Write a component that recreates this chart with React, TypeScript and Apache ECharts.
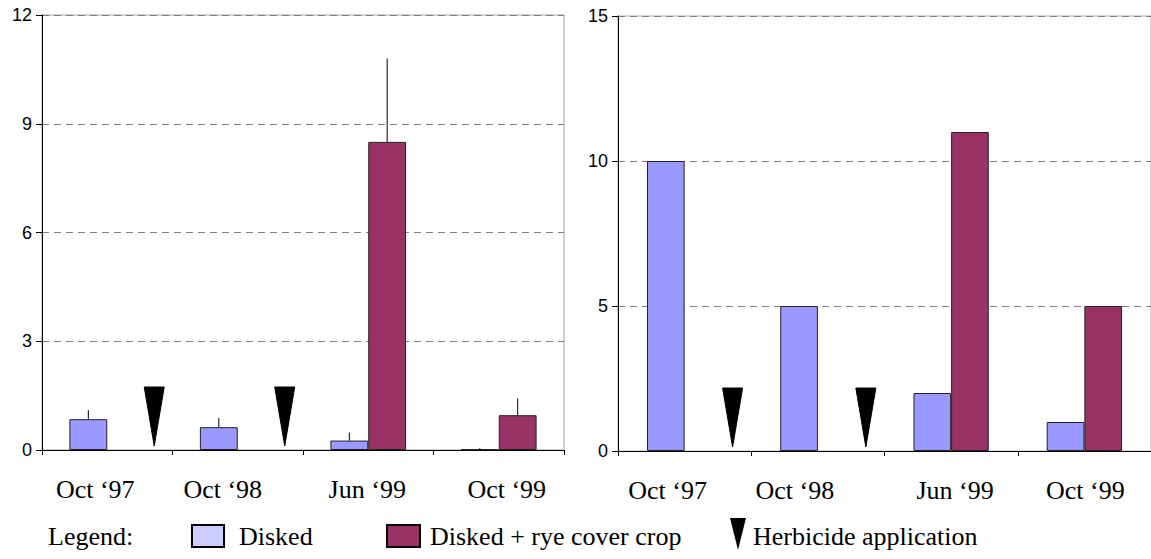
import React, { useEffect, useRef } from "react";
import * as echarts from "echarts";

const categories = ["Oct \u201897", "Oct \u201898", "Jun \u201899", "Oct \u201899"];
const leftDisked = [0.85, 0.63, 0.26, 0.02];
const leftRye = [null, null, 8.5, 0.96];
const leftDiskedErr = [1.1, 0.88, 0.48, 0.05];
const leftRyeErr = [null, null, 10.8, 1.42];
const rightDisked = [10, 5, 2, 1];
const rightRye = [null, null, 11, 5];
const herbicideAfter = [0, 1];
const leftTicks = [0, 3, 6, 9, 12];
const rightTicks = [0, 5, 10, 15];

// horizontal nudges of the category labels (px), as placed in the original figure
const leftLabelShift = [-12, -15, -1, 8];
const rightLabelShift = [-17, -23, 4, 1];

const DISKED = "#9999FF";
const RYE = "#993366";
const SERIF = "'Liberation Serif', 'Times New Roman', serif";
const SANS = "'Liberation Sans', Arial, sans-serif";
const GAP_L = 0.42;
const GAP_R = 0.435;

function errData() {
  const out: number[][] = [];
  categories.forEach((_, i) => {
    if (leftDiskedErr[i] != null) out.push([i, leftDiskedErr[i] as number, leftDisked[i] as number, -1]);
    if (leftRyeErr[i] != null) out.push([i, leftRyeErr[i] as number, leftRye[i] as number, 1]);
  });
  return out;
}

function makeErrRender(gap: number) {
  return (_p: any, api: any) => {
    const i = api.value(0);
    const top = api.coord([i, api.value(1)]);
    const base = api.coord([i, api.value(2)]);
    const bw = api.size([1, 0])[0];
    const barW = (bw * (1 - gap)) / 2;
    const x = top[0] + (api.value(3) * barW) / 2;
    return {
      type: "line",
      shape: { x1: x, y1: base[1], x2: x, y2: top[1] },
      style: { stroke: "#000", lineWidth: 1 },
    };
  };
}

function triRender(_p: any, api: any) {
  const i = api.value(0);
  const p = api.coord([i, 0]);
  const bw = api.size([1, 0])[0];
  const x = p[0] + bw * 0.36;
  const y0 = p[1];
  return {
    type: "polygon",
    shape: { points: [[x - 10, y0 - 63], [x + 10, y0 - 63], [x, y0 - 4]] },
    style: { fill: "#000", stroke: "#000", lineWidth: 1 },
  };
}

function yAxis(gridIndex: number, ticks: number[]) {
  return {
    type: "value",
    gridIndex,
    min: ticks[0],
    max: ticks[ticks.length - 1],
    interval: ticks[1] - ticks[0],
    axisLine: { show: true, lineStyle: { color: "#000", width: 1 } },
    axisTick: { show: true, length: 6, lineStyle: { color: "#000" } },
    axisLabel: { color: "#000", fontSize: 18, fontFamily: SANS, margin: 10 },
    splitLine: { show: true, lineStyle: { color: "#808080", type: [7, 5], width: 1 } },
  };
}

function xAxis(gridIndex: number, shifts: number[]) {
  return {
    type: "category",
    gridIndex,
    data: categories.map((c, i) => {
      const s = shifts[i];
      return {
        value: c,
        textStyle: { padding: [0, s < 0 ? -2 * s : 0, 0, s > 0 ? 2 * s : 0] },
      };
    }),
    axisLine: { show: true, lineStyle: { color: "#000", width: 1.2 } },
    axisTick: { show: true, length: 5, lineStyle: { color: "#000" } },
    axisLabel: { color: "#000", fontSize: 26, fontFamily: SERIF, margin: 26 },
  };
}

export default function App() {
  const ref = useRef<HTMLDivElement>(null);
  useEffect(() => {
    if (!ref.current) return;
    const chart = echarts.init(ref.current, null, { renderer: "svg" });
    const barStyle = (c: string) => ({ color: c, borderColor: "#222", borderWidth: 1 });
    chart.setOption({
      animation: false,
      backgroundColor: "#fff",
      grid: [
        { left: 42, top: 15, width: 522, height: 435, show: true, borderColor: "#a0a0a0", borderWidth: 1, backgroundColor: "transparent" },
        { left: 618, top: 16, width: 537, height: 435, show: true, borderColor: "#b0b0b0", borderWidth: 1, backgroundColor: "transparent" },
      ],
      xAxis: [xAxis(0, leftLabelShift), xAxis(1, rightLabelShift)],
      yAxis: [yAxis(0, leftTicks), yAxis(1, rightTicks)],
      series: [
        { type: "bar", name: "Disked", xAxisIndex: 0, yAxisIndex: 0, data: leftDisked, barGap: "0%", barCategoryGap: GAP_L * 100 + "%", itemStyle: barStyle(DISKED) },
        { type: "bar", name: "Disked + rye cover crop", xAxisIndex: 0, yAxisIndex: 0, data: leftRye, barGap: "0%", barCategoryGap: GAP_L * 100 + "%", itemStyle: barStyle(RYE) },
        { type: "bar", name: "Disked", xAxisIndex: 1, yAxisIndex: 1, data: rightDisked, barGap: "0%", barCategoryGap: GAP_R * 100 + "%", itemStyle: barStyle(DISKED) },
        { type: "bar", name: "Disked + rye cover crop", xAxisIndex: 1, yAxisIndex: 1, data: rightRye, barGap: "0%", barCategoryGap: GAP_R * 100 + "%", itemStyle: barStyle(RYE) },
        { type: "custom", xAxisIndex: 0, yAxisIndex: 0, data: errData(), renderItem: makeErrRender(GAP_L), z: 5 },
        { type: "custom", xAxisIndex: 0, yAxisIndex: 0, data: herbicideAfter.map((i) => [i, 0]), renderItem: triRender, z: 5 },
        { type: "custom", xAxisIndex: 1, yAxisIndex: 1, data: herbicideAfter.map((i) => [i, 0]), renderItem: triRender, z: 5 },
      ],
      graphic: [
        { type: "text", left: 48, top: 523, style: { text: "Legend:", font: `26px ${SERIF}`, fill: "#000" } },
        { type: "rect", shape: { x: 192, y: 525, width: 32, height: 22 }, style: { fill: "#CCCCFF", stroke: "#000", lineWidth: 2 } },
        { type: "text", left: 239, top: 523, style: { text: "Disked", font: `26px ${SERIF}`, fill: "#000" } },
        { type: "rect", shape: { x: 387, y: 525, width: 33, height: 22 }, style: { fill: RYE, stroke: "#000", lineWidth: 2 } },
        { type: "text", left: 430, top: 523, style: { text: "Disked + rye cover crop", font: `26px ${SERIF}`, fill: "#000" } },
        { type: "polygon", shape: { points: [[730, 518], [746, 518], [738, 550]] }, style: { fill: "#000" } },
        { type: "text", left: 753, top: 523, style: { text: "Herbicide application", font: `26px ${SERIF}`, fill: "#000" } },
      ],
    });
    return () => chart.dispose();
  }, []);
  return <div ref={ref} style={{ position: "fixed", left: 0, top: 0, width: 1151, height: 559 }} />;
}
